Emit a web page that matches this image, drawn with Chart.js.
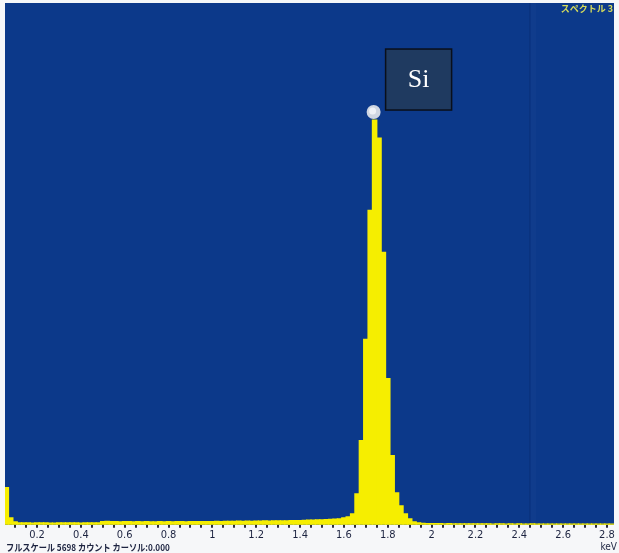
<!DOCTYPE html>
<html>
<head>
<meta charset="utf-8">
<script src="https://cdn.jsdelivr.net/npm/chart.js@4/dist/chart.umd.min.js"></script>
<style>
    html, body { margin: 0; padding: 0; background: #f6f7f9; }
    #wrap { position: relative; width: 619px; height: 553px; }
</style>
</head>
<body>
<div id="wrap"><canvas id="chart" width="619" height="553"></canvas></div>
<script>

// EDS spectrum, 20 eV channels, first channel centred at 0.06 keV
const BIN_START = 0.06;
const BIN_WIDTH = 0.02;

const counts = [
    405, 77, 33,
    22, 20, 20, 18, 20, 22, 20, 18, 18, 20, 20, 22, 20, 20, 18, 20, 22, 20, 22,
    35, 38, 36, 35, 33, 35, 34, 33, 35, 33, 34, 33, 32, 34, 33, 35, 33, 34, 35, 33, 34, 35, 36, 35, 36,
    36, 37, 36, 38, 37, 38, 40, 38, 40, 39, 41, 40, 42, 41, 43, 42, 44, 43, 45, 46, 47,
    48, 50, 51, 53, 55, 57, 60, 62,
    66, 77, 88, 120, 339, 919, 2024, 3435, 4420, 4223, 2976, 1597, 755, 350, 208, 120, 66, 33, 22,
    15, 14, 13, 12, 12, 11, 12, 11, 10, 11, 10, 11, 10, 10, 11, 10, 9, 10, 10, 9,
    10, 9, 10, 9, 9, 10, 9, 8, 9, 9, 8, 9, 8, 9, 8, 8, 9, 8, 8, 9, 8, 8, 8, 7
];

const energies = counts.map((c, i) => Math.round((BIN_START + i * BIN_WIDTH) * 100) / 100);

const X_MIN = 0.054;
const X_MAX = 2.832;
const TICK_STEP = 0.05;
const LABEL_STEP = 0.2;

const FULL_SCALE = 5698;
const CURSOR = '0.000';
const SPECTRUM_NAME = 'スペクトル 3';
const PEAK_LABEL = 'Si';

const BLUE = '#0c398a';
const YELLOW = '#f6ee00';

const decorations = {
    id: 'decorations',

    beforeDatasetsDraw(chart) {
        const { ctx, chartArea: a } = chart;
        ctx.save();
        ctx.fillStyle = BLUE;
        ctx.fillRect(a.left, a.top, a.right - a.left, a.bottom - a.top);

        // faint fold in the scanned sheet
        ctx.fillStyle = 'rgba(0, 10, 50, 0.12)';
        ctx.fillRect(a.left + 524, a.top, 1.5, a.bottom - a.top);
        ctx.fillStyle = 'rgba(120, 150, 210, 0.04)';
        ctx.fillRect(a.left + 526, a.top, 5, a.bottom - a.top);

        ctx.fillStyle = '#d6dc5c';
        ctx.font = 'bold 9px "Noto Sans CJK JP"';
        ctx.textAlign = 'right';
        ctx.textBaseline = 'middle';
        ctx.fillText(SPECTRUM_NAME, a.right - 1, a.top + 6);
        ctx.restore();
    },

    afterDatasetsDraw(chart) {
        const { ctx, scales } = chart;
        const peak = counts.indexOf(Math.max(...counts));
        const px = scales.x.getPixelForValue(energies[peak]);
        const py = scales.y.getPixelForValue(counts[peak]);

        ctx.save();

        ctx.beginPath();
        ctx.arc(px - 1, py - 8, 7, 0, Math.PI * 2);
        ctx.fillStyle = '#cfd6e2';
        ctx.fill();
        ctx.beginPath();
        ctx.arc(px - 2, py - 9, 3.5, 0, Math.PI * 2);
        ctx.fillStyle = '#eef1f6';
        ctx.fill();

        const bx = px + 11, by = py - 71, bw = 66, bh = 61;
        ctx.fillStyle = '#1f3a60';
        ctx.fillRect(bx, by, bw, bh);
        ctx.strokeStyle = '#0a0f1a';
        ctx.lineWidth = 1.5;
        ctx.strokeRect(bx, by, bw, bh);

        ctx.fillStyle = '#ffffff';
        ctx.font = '26px "Liberation Serif"';
        ctx.textAlign = 'center';
        ctx.textBaseline = 'middle';
        ctx.fillText(PEAK_LABEL, bx + bw / 2, by + bh / 2 + 1);

        ctx.restore();
    },

    afterDraw(chart) {
        const { ctx } = chart;
        ctx.save();
        ctx.fillStyle = '#1c2340';
        ctx.textBaseline = 'middle';
        ctx.textAlign = 'left';
        ctx.translate(6, 547);
        ctx.scale(0.86, 1);
        ctx.font = 'bold 9.5px "Noto Sans CJK JP"';
        ctx.fillText('フルスケール ' + FULL_SCALE + ' カウント カーソル:' + CURSOR, 0, 0);
        ctx.restore();

        ctx.save();
        ctx.fillStyle = '#1c2340';
        ctx.textBaseline = 'middle';
        ctx.font = '10px "DejaVu Sans Condensed"';
        ctx.textAlign = 'right';
        ctx.fillText('keV', 617, 547);
        ctx.restore();
    }
};

const chart = new Chart(document.getElementById('chart'), {

    type: 'bar',

    data: {
        datasets: [{
            label: 'counts',
            data: energies.map((e, i) => ({ x: e, y: counts[i] })),
            backgroundColor: YELLOW,
            borderWidth: 0,
            inflateAmount: 0.6,
            barPercentage: 1,
            categoryPercentage: 1
        }]
    },

    options: {
        responsive: false,
        animation: false,

        layout: {
            padding: { left: 5, right: 5, top: 3, bottom: 10 }
        },

        plugins: {
            legend: { display: false },
            tooltip: { enabled: false }
        },

        scales: {
            x: {
                type: 'linear',
                offset: false,
                min: X_MIN,
                max: X_MAX,
                afterBuildTicks(scale) {
                    const ticks = [];
                    for (let v = 0.1; v <= X_MAX; v += TICK_STEP) {
                        ticks.push({ value: Math.round(v * 100) / 100 });
                    }
                    scale.ticks = ticks;
                },
                border: { display: false },
                grid: {
                    offset: false,
                    drawOnChartArea: false,
                    drawTicks: true,
                    tickLength: 3,
                    color: '#2a2a3a',
                    lineWidth: 2
                },
                ticks: {
                    autoSkip: false,
                    maxRotation: 0,
                    padding: 1,
                    color: '#1c2340',
                    font: { family: 'DejaVu Sans Condensed', size: 11 },
                    callback(value) {
                        const hundredths = Math.round(value * 100);
                        return hundredths % Math.round(LABEL_STEP * 100) === 0 ? String(hundredths / 100) : '';
                    }
                }
            },
            y: {
                display: false,
                min: 0,
                max: FULL_SCALE
            }
        }
    },

    plugins: [decorations]
});
</script>
</body>
</html>
